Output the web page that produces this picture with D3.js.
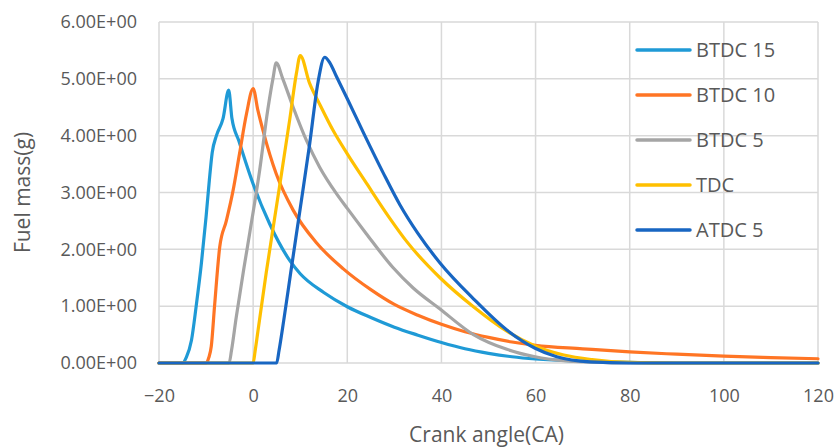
<!DOCTYPE html>
<html>
<head>
<meta charset="utf-8">
<script src="https://cdn.jsdelivr.net/npm/d3@7"></script>
<style>
  html, body { margin: 0; padding: 0; background: #fff; }
  svg { display: block; font-family: "Open Sans", "Noto Sans", sans-serif; }
</style>
</head>
<body>
<svg id="chart" width="837" height="448"></svg>
<script>
// crank angle (CA), fuel mass (g) pairs
const btdc15 = [[-20,0],[-15,0],[-14.2,0.1],[-13.1,0.4],[-12.1,1.0],[-11.0,1.75],[-10.0,2.57],[-9.3,3.22],[-8.7,3.7],[-7.8,4.0],[-6.4,4.3],[-5.2,4.8],[-4.5,4.3],[-3,3.9],[0,3.15],[3.5,2.45],[7.8,1.8],[10,1.57],[15,1.24],[20,0.99],[25,0.8],[30,0.63],[35,0.49],[40,0.36],[45,0.25],[50,0.17],[55,0.11],[60,0.07],[70,0.03],[80,0.01],[90,0],[120,0]];
const btdc10 = [[-20,0],[-10,0],[-9.4,0.1],[-8.9,0.29],[-8.2,1.0],[-7.1,2.04],[-5.7,2.5],[-4.3,3.02],[-2.9,3.68],[-1.4,4.39],[0,4.83],[1,4.45],[2.1,4.09],[4.9,3.33],[8.5,2.69],[13.4,2.12],[19.1,1.66],[25,1.29],[30,1.03],[35,0.84],[40,0.68],[45,0.55],[50,0.45],[55,0.37],[60,0.31],[70,0.25],[80,0.195],[90,0.155],[100,0.12],[110,0.095],[120,0.075]];
const btdc5 = [[-20,0],[-5.1,0],[-4.6,0.22],[-3.6,0.8],[-2,1.65],[-0.7,2.3],[1.4,3.4],[3.1,4.45],[4.2,5.0],[4.9,5.28],[6.3,5.0],[8.5,4.5],[11.3,3.92],[14.1,3.45],[17.7,2.98],[20,2.72],[24,2.28],[29.7,1.68],[34,1.32],[39.7,0.95],[46.8,0.5],[53.9,0.24],[59.9,0.11],[66,0.04],[72,0.015],[80,0],[120,0]];
const tdc = [[-20,0],[0,0],[0.4,0.2],[1,0.55],[2.8,1.6],[5.6,3.1],[7.8,4.3],[9.2,5.1],[10,5.41],[12,4.92],[14.1,4.56],[17,4.09],[20,3.68],[24.1,3.16],[29,2.55],[32.6,2.14],[39.7,1.5],[46.8,0.99],[53.9,0.56],[59.9,0.3],[66,0.14],[72,0.06],[80,0.01],[90,0],[120,0]];
const atdc5 = [[-20,0],[5,0],[5.5,0.22],[6.5,0.75],[8,1.6],[10,2.72],[12,3.85],[13.8,4.95],[15.2,5.38],[16.3,5.28],[17.7,5.04],[20,4.65],[23.5,4.04],[27.6,3.35],[31.2,2.78],[35,2.28],[39.7,1.76],[46.8,1.13],[53.9,0.58],[59.9,0.26],[64.5,0.11],[71.6,0.02],[80,0],[120,0]];

const seriesNames = ['BTDC 15', 'BTDC 10', 'BTDC 5', 'TDC', 'ATDC 5'];
const seriesData = [btdc15, btdc10, btdc5, tdc, atdc5];
const colors = ['#1f9ad6', '#ff7524', '#a5a5a5', '#ffc000', '#1866c2'];

const xTicks = [-20, 0, 20, 40, 60, 80, 100, 120];
const yTicks = [0, 1, 2, 3, 4, 5, 6];
const yTickLabels = ['0.00E+00', '1.00E+00', '2.00E+00', '3.00E+00', '4.00E+00', '5.00E+00', '6.00E+00'];

const svg = d3.select('#chart');
const plotLeft = 159, plotRight = 818, plotTop = 22, plotBottom = 363;

const x = d3.scaleLinear().domain([-20, 120]).range([plotLeft, plotRight]);
const y = d3.scaleLinear().domain([0, 6]).range([plotBottom, plotTop]);

// grid
svg.append('g')
  .selectAll('line')
  .data(yTicks)
  .enter().append('line')
  .attr('x1', plotLeft).attr('x2', plotRight)
  .attr('y1', d => y(d)).attr('y2', d => y(d))
  .attr('stroke', '#d9d9d9').attr('stroke-width', 1.5);
svg.append('g')
  .selectAll('line')
  .data(xTicks)
  .enter().append('line')
  .attr('x1', d => x(d)).attr('x2', d => x(d))
  .attr('y1', plotTop).attr('y2', plotBottom)
  .attr('stroke', '#d9d9d9').attr('stroke-width', 1.5);

// axes
const xAxis = svg.append('g')
  .attr('transform', `translate(0,${plotBottom})`)
  .call(d3.axisBottom(x).tickValues(xTicks).tickSize(0).tickPadding(26).tickFormat(d3.format('d')));
const yAxis = svg.append('g')
  .attr('transform', `translate(${plotLeft},0)`)
  .call(d3.axisLeft(y).tickValues(yTicks).tickSize(0).tickPadding(22).tickFormat((d, i) => yTickLabels[i]));
[xAxis, yAxis].forEach(a => {
  a.select('.domain').remove();
  a.selectAll('text').attr('fill', '#595959').attr('font-size', '18px')
    .attr('font-family', '"Open Sans", sans-serif');
});

// lines
const line = d3.line().x(d => x(d[0])).y(d => y(d[1])).curve(d3.curveMonotoneX);
svg.append('g')
  .selectAll('path')
  .data(seriesData)
  .enter().append('path')
  .attr('d', line)
  .attr('fill', 'none')
  .attr('stroke', (d, i) => colors[i])
  .attr('stroke-width', 3.2)
  .attr('stroke-linejoin', 'round')
  .attr('stroke-linecap', 'round');

// legend
const legend = svg.append('g').attr('transform', 'translate(637,50)');
const item = legend.selectAll('g')
  .data(seriesNames)
  .enter().append('g')
  .attr('transform', (d, i) => `translate(0,${i * 45})`);
item.append('line')
  .attr('x1', 0).attr('x2', 53)
  .attr('stroke', (d, i) => colors[i])
  .attr('stroke-width', 3.5)
  .attr('stroke-linecap', 'round');
item.append('text')
  .attr('x', 59).attr('dy', '0.35em')
  .attr('font-size', '20px')
  .attr('fill', '#595959')
  .text(d => d);

// titles
svg.append('text')
  .attr('x', (plotLeft + plotRight) / 2 - 2).attr('y', 442)
  .attr('text-anchor', 'middle')
  .attr('font-size', '21px')
  .attr('fill', '#595959')
  .text('Crank angle(CA)');
svg.append('text')
  .attr('transform', `translate(30,${(plotTop + plotBottom) / 2}) rotate(-90)`)
  .attr('text-anchor', 'middle')
  .attr('font-size', '21px')
  .attr('fill', '#595959')
  .text('Fuel mass(g)');
</script>
</body>
</html>
